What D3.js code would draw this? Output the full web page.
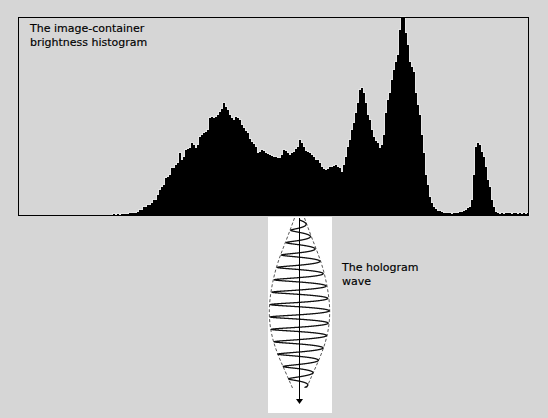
<!DOCTYPE html>
<html>
<head>
<meta charset="utf-8">
<script src="https://cdnjs.cloudflare.com/ajax/libs/d3/7.8.5/d3.min.js"></script>
<style>
  body { margin: 0; background: #d6d6d6; }
  svg { display: block; }
  .label { font-family: 'DejaVu Sans', Verdana, sans-serif; font-size: 11px; fill: #000; stroke: #000; stroke-width: 0.15px; }
</style>
</head>
<body>
<div id="chart"></div>
<script>
// brightness histogram: first non-empty level, then pixel counts per level
const levelStart = 47;
const counts = [
  1, 0, 1, 0, 1, 1, 1, 1, 2, 2, 2, 2, 3, 5, 5, 8, 8, 10, 10, 12,
  15, 15, 20, 25, 28, 30, 37, 38, 40, 47, 47, 50, 52, 62, 55, 58, 65, 66, 67, 72,
  70, 67, 70, 78, 80, 82, 83, 85, 97, 98, 97, 98, 100, 103, 106, 112, 108, 105, 100, 97,
  95, 98, 97, 95, 90, 87, 84, 82, 76, 73, 71, 68, 62, 63, 65, 64, 62, 61, 60, 59,
  58, 58, 57, 57, 60, 65, 64, 62, 60, 62, 63, 66, 68, 75, 72, 68, 64, 63, 62, 60,
  58, 55, 55, 52, 48, 46, 45, 46, 48, 48, 49, 50, 48, 47, 43, 50, 58, 68, 75, 85,
  92, 102, 112, 125, 127, 122, 112, 100, 95, 85, 78, 74, 72, 67, 70, 80, 102, 115, 122, 135,
  145, 153, 160, 185, 198, 198, 182, 170, 153, 148, 143, 122, 110, 100, 80, 62, 40, 30, 18, 12,
  8, 6, 4, 4, 3, 2, 2, 2, 2, 1, 2, 2, 2, 3, 3, 4, 5, 7, 8, 15,
  40, 68, 72, 70, 63, 58, 48, 35, 28, 15, 8, 3, 2, 1, 2, 1, 2, 2, 2, 1,
  2, 2, 1, 2, 1, 2, 1, 2
];
const histTitle = ['The image-container', 'brightness histogram'];

// hologram wave: envelope half-width along the beam
const envelopeY = [218, 240, 262, 286, 310, 332, 352, 372, 388];
const envelopeHalf = [5, 13, 22, 28, 31, 29, 23, 14, 7];
const waveTitle = ['The hologram', 'wave'];

const W = 548, H = 418;
const hist = { left: 18, top: 17, width: 510, height: 198 };
const wave = { left: 268, top: 217, width: 64, height: 196, cx: 299.5 };

const svg = d3.select('#chart').append('svg')
  .attr('width', W)
  .attr('height', H);

// Scales
const xScale = d3.scaleLinear()
  .domain([0, 255])
  .range([hist.left + 1, hist.left + 1 + 255 * 2]);

const yScale = d3.scaleLinear()
  .domain([0, 198])
  .range([hist.top + hist.height, hist.top]);

const data = counts.map(function(c, i) { return { level: levelStart + i, count: c }; });

// light halo around the bars, then the bars themselves
const area = d3.area()
  .x(function(d) { return xScale(d.level); })
  .y0(yScale(0))
  .y1(function(d) { return yScale(d.count); })
  .curve(d3.curveStepAfter);

const stepData = data.concat([{ level: levelStart + counts.length, count: 0 }]);

svg.append('path')
  .datum(stepData)
  .attr('d', area)
  .attr('fill', 'none')
  .attr('stroke', '#f4f4f4')
  .attr('stroke-width', 1.6)
  .attr('stroke-opacity', 0.7);

svg.append('g')
  .selectAll('rect')
  .data(data)
  .enter()
  .append('rect')
    .attr('x', function(d) { return xScale(d.level); })
    .attr('y', function(d) { return yScale(d.count); })
    .attr('width', xScale(1) - xScale(0))
    .attr('height', function(d) { return yScale(0) - yScale(d.count); })
    .attr('fill', '#000');

// frame
svg.append('rect')
  .attr('x', hist.left + 0.5)
  .attr('y', hist.top + 0.5)
  .attr('width', hist.width)
  .attr('height', hist.height)
  .attr('fill', 'none')
  .attr('stroke', '#000')
  .attr('stroke-width', 1);

svg.append('text')
  .attr('class', 'label')
  .selectAll('tspan')
  .data(histTitle)
  .enter()
  .append('tspan')
    .attr('x', 30)
    .attr('y', function(d, i) { return 32 + i * 14; })
    .text(function(d) { return d; });

// wave panel
svg.append('rect')
  .attr('x', wave.left)
  .attr('y', wave.top)
  .attr('width', wave.width)
  .attr('height', wave.height)
  .attr('fill', '#fff');

const halfWidth = d3.scaleLinear()
  .domain(envelopeY)
  .range(envelopeHalf)
  .clamp(true);

const envLine = d3.line()
  .x(function(d) { return d[0]; })
  .y(function(d) { return d[1]; })
  .curve(d3.curveBasis);

[-1, 1].forEach(function(side) {
  svg.append('path')
    .datum(envelopeY.map(function(y, i) { return [wave.cx + side * envelopeHalf[i], y]; }))
    .attr('d', envLine)
    .attr('fill', 'none')
    .attr('stroke', '#555')
    .attr('stroke-width', 1)
    .attr('stroke-dasharray', '3,2');
});

// oscillation inside the envelope (helix seen slightly from above)
const period = 12.4;
const tilt = 0.45 * period / (2 * Math.PI);
const wavePts = d3.range(0, (envelopeY[envelopeY.length - 1] - envelopeY[0] - 4) / period * 2 * Math.PI, 0.02).map(function(t) {
  const yc = envelopeY[0] + 2 + t / (2 * Math.PI) * period;
  return [wave.cx + halfWidth(yc) * 0.96 * Math.sin(t), yc - tilt * Math.cos(t) + tilt];
});

svg.append('path')
  .datum(wavePts)
  .attr('d', d3.line())
  .attr('fill', 'none')
  .attr('stroke', '#111')
  .attr('stroke-width', 1.3);

// beam axis with arrow
svg.append('line')
  .attr('x1', wave.cx)
  .attr('x2', wave.cx)
  .attr('y1', wave.top + 1)
  .attr('y2', 400)
  .attr('stroke', '#000')
  .attr('stroke-width', 1);

svg.append('path')
  .attr('d', d3.line()([[wave.cx - 3.5, 399], [wave.cx + 3.5, 399], [wave.cx, 404]]) + 'Z')
  .attr('fill', '#000');

svg.append('text')
  .attr('class', 'label')
  .selectAll('tspan')
  .data(waveTitle)
  .enter()
  .append('tspan')
    .attr('x', 342)
    .attr('y', function(d, i) { return 271 + i * 14; })
    .text(function(d) { return d; });
</script>
</body>
</html>
